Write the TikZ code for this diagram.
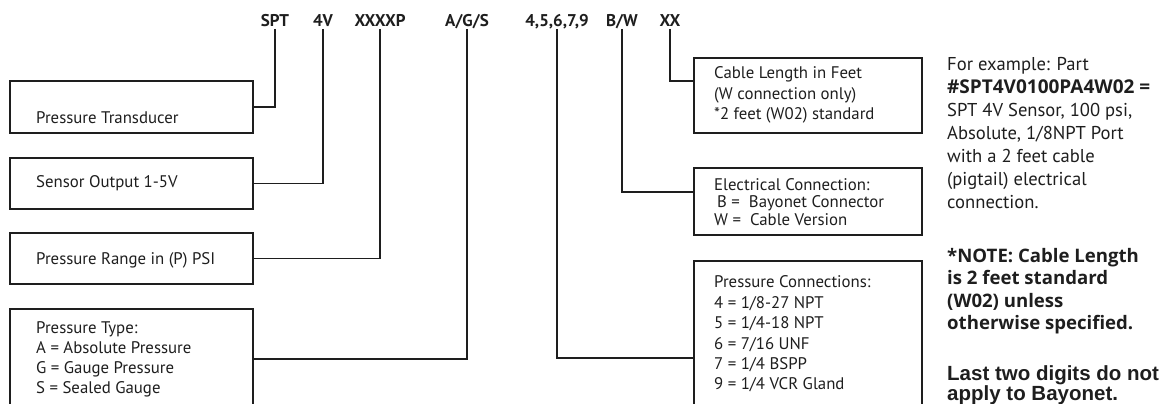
\documentclass[tikz,border=0pt]{standalone}
\usepackage{fontspec}
\newfontfamily\pts{PT Sans}
\newfontfamily\osn{Open Sans}
\newfontfamily\arb{Liberation Sans}
\definecolor{ink}{HTML}{1E1E1E}
\begin{document}
\begin{tikzpicture}[x=1pt,y=-1pt,
  lw/.style={line width=1.6pt, draw=ink},
  box/.style={lw, anchor=north west, inner sep=0pt, minimum width=243pt},
  rbox/.style={lw, anchor=north west, inner sep=0pt, minimum width=228pt},
  hdr/.style={font=\pts\bfseries\fontsize{17}{20}\selectfont, text=ink, inner sep=0pt, outer sep=2pt, text depth=0pt, anchor=base},
  txt/.style={font=\pts\fontsize{16.8}{20.4}\selectfont, inner sep=0pt, anchor=west, align=left, text=ink},
  side/.style={font=\pts\fontsize{18.6}{23}\selectfont, inner sep=0pt, anchor=west, align=left, text=ink},
  conn/.style={lw}
]
\useasboundingbox (0,0) rectangle (1167,404);
\clip (0,0) rectangle (1167,404);

% header code letters
\node[hdr] (spt) at (275,27) {SPT};
\node[hdr] (fv) at (323,27) {4V};
\node[hdr] (xxxxp) at (380,27) {XXXXP};
\node[hdr] (ags) at (467,27) {A/G/S};
\node[hdr] (pc) at (557,27) {4,5,6,7,9};
\node[hdr] (bw) at (622,27) {B/W};
\node[hdr] (xx) at (670,27) {XX};

% left boxes
\node[box, minimum height=52pt] (b1) at (9,80) {};
\node[box, minimum height=51pt] (b2) at (9,157) {};
\node[box, minimum height=51pt] (b3) at (9,232) {};
\node[box, minimum height=100pt] (b4) at (9,308) {};

% right boxes
\node[rbox, minimum height=75pt] (r1) at (693,57) {};
\node[rbox, minimum height=67pt] (r2) at (693,167) {};
\node[rbox, minimum height=194pt] (r3) at (693,260) {};

% box texts
\node[txt] (t1) at (36,118) {Pressure Transducer};
\node[txt] (t2) at (36,183) {Sensor Output 1-5V};
\node[txt] (t3) at (36,260) {Pressure Range in (P) PSI};
\node[txt, font=\pts\fontsize{16.8}{20}\selectfont] (t4) at (36,359) {Pressure Type:\\A = Absolute Pressure\\G = Gauge Pressure\\S = Sealed Gauge};
\node[txt] (t5) at (714,95) {Cable Length in Feet\\(W connection only)\\*2 feet (W02) standard};
\node[txt, font=\pts\fontsize{16.8}{17.5}\selectfont] (t6) at (714,202) {Electrical Connection:\\\hspace*{3pt}B =~~Bayonet Connector\\W =~~Cable Version};
\node[txt] (t7) at (714,334) {Pressure Connections:\\4 = 1/8-27 NPT\\5 = 1/4-18 NPT\\6 = 7/16 UNF\\7 = 1/4 BSPP\\9 = 1/4 VCR Gland};

% side notes
\node[side] (s1) at (947,133) {For example: Part\\{\osn\bfseries\fontsize{19}{23}\selectfont \#SPT4V0100PA4W02 =}\\SPT 4V Sensor, 100 psi,\\Absolute, 1/8NPT Port\\with a 2 feet cable\\(pigtail) electrical\\connection.};
\node[side, font=\osn\bfseries\fontsize{18.6}{22.5}\selectfont] (s2) at (947,291) {*NOTE: Cable Length\\is 2 feet standard\\(W02) unless\\otherwise specified.};
\node[side, font=\arb\bfseries\fontsize{20.5}{19.5}\selectfont] (s3) at (947,385) {Last two digits do not\\apply to Bayonet.};

% connectors
\coordinate (r1in) at (693,81);
\coordinate (r2in) at (693,192);
\draw[conn] (spt.south) |- (b1.east);
\draw[conn] (fv.south) |- (b2.east);
\draw[conn] (xxxxp.south) |- (b3.east);
\draw[conn] (ags.south) |- (b4.east);
\draw[conn] (pc.south) |- (r3.west);
\draw[conn] (bw.south) |- (r2in);
\draw[conn] (xx.south) |- (r1in);
\end{tikzpicture}
\end{document}
